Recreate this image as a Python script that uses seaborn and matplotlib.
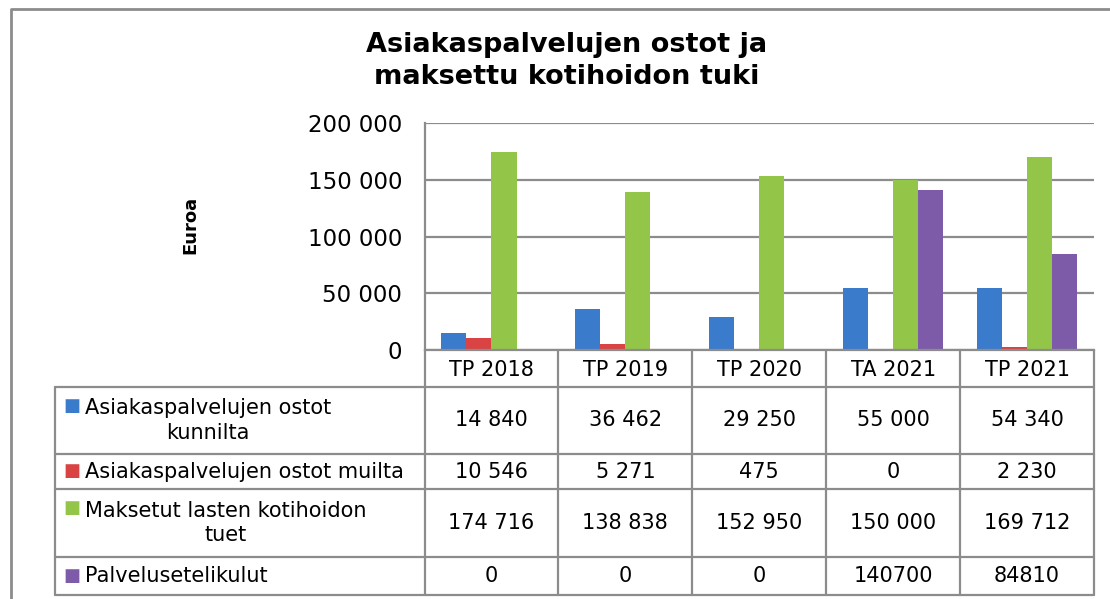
import matplotlib
matplotlib.use("Agg")
import matplotlib.pyplot as plt
import matplotlib.transforms as mtransforms
from matplotlib.lines import Line2D
from matplotlib.ticker import FuncFormatter
import pandas as pd
import seaborn as sns

W, H = 1110, 599

# Data
periods = ["TP 2018", "TP 2019", "TP 2020", "TA 2021", "TP 2021"]
series = ["Asiakaspalvelujen ostot kunnilta", "Asiakaspalvelujen ostot muilta",
          "Maksetut lasten kotihoidon tuet", "Palvelusetelikulut"]
series_labels = ["Asiakaspalvelujen ostot\nkunnilta", "Asiakaspalvelujen ostot muilta",
                 "Maksetut lasten kotihoidon\ntuet", "Palvelusetelikulut"]
kunnilta = [14840, 36462, 29250, 55000, 54340]
muilta = [10546, 5271, 475, 0, 2230]
kotihoidon_tuet = [174716, 138838, 152950, 150000, 169712]
palveluseteli = [0, 0, 0, 140700, 84810]
# last row has no thousands separators in the sheet
grouped = [True, True, True, False]
yticks = [0, 50000, 100000, 150000, 200000]

colors = ["#3A7BCB", "#D94343", "#93C548", "#7D5BA9"]
grid_col = "#8c8c8c"

values = [kunnilta, muilta, kotihoidon_tuet, palveluseteli]
rows = []
for s, vals in zip(series, values):
    for p, v in zip(periods, vals):
        rows.append({"period": p, "series": s, "value": v})
df = pd.DataFrame(rows)


def fmt(v, group=True):
    v = int(v)
    return f"{v:,}".replace(",", " ") if group else str(v)


sns.set_style("white")
plt.rcParams["font.family"] = ["DejaVu Sans"]
plt.rcParams["text.color"] = "black"
plt.rcParams["axes.labelcolor"] = "black"
plt.rcParams["ytick.color"] = "black"

fig = plt.figure(figsize=(W / 100, H / 100), dpi=100)
ax = fig.add_axes([424.5 / W, 1 - 350 / H, (1094 - 424.5) / W, (350 - 123) / H])

sns.barplot(data=df, x="period", y="value", hue="series", order=periods,
            hue_order=series, palette=colors, saturation=1, width=0.75,
            errorbar=None, legend=False, ax=ax, linewidth=0)

ax.set_xlim(-0.5, len(periods) - 0.5)
ax.set_ylim(0, 200000)
ax.set_yticks(yticks)
ax.yaxis.set_major_formatter(FuncFormatter(lambda v, _: fmt(v)))
ax.tick_params(axis="y", length=0, pad=16, labelsize=16.5)
ax.set_xticks([])
ax.set_xlabel("")
ax.set_ylabel("Euroa", fontsize=13, fontweight="bold", labelpad=78)
ax.yaxis.label.set_y(0.55)
ax.grid(axis="y", color=grid_col, lw=1.6)
ax.set_axisbelow(True)
for side in ["top", "right"]:
    ax.spines[side].set_visible(False)
for side in ["left", "bottom"]:
    ax.spines[side].set_color(grid_col)
    ax.spines[side].set_linewidth(1.6)

fig.text(567 / W, 1 - 61 / H, "Asiakaspalvelujen ostot ja\nmaksettu kotihoidon tuki",
         ha="center", va="center", fontsize=19.5, fontweight="bold", linespacing=1.25)

# data table below the axes (pixel positions from the top of the image)
pix = mtransforms.Affine2D().scale(1 / W, -1 / H).translate(0, 1) + fig.transFigure
colpix = mtransforms.blended_transform_factory(ax.transData, pix)

head_top = 350
row_edges = [387, 454, 489, 557, 595]
tbl_left = 55
tbl_right = 1094
line_kw = dict(color=grid_col, lw=1.6)

for y in row_edges:
    fig.add_artist(Line2D([tbl_left, tbl_right], [y, y], transform=pix, **line_kw))
fig.add_artist(Line2D([tbl_left, tbl_left], [row_edges[0], row_edges[-1]], transform=pix, **line_kw))
for i in range(len(periods) + 1):
    fig.add_artist(Line2D([i - 0.5, i - 0.5], [head_top, row_edges[-1]], transform=colpix, **line_kw))

for i, p in enumerate(periods):
    fig.text(i, (head_top + row_edges[0]) / 2 + 1, p, transform=colpix, ha="center",
             va="center", fontsize=15)

for r, (lab, vals) in enumerate(zip(series_labels, values)):
    yc = (row_edges[r] + row_edges[r + 1]) / 2
    ytop = row_edges[r] + 19 if "\n" in lab else yc
    fig.text(72, ytop, "\u25A0", transform=pix, ha="center", va="center",
             fontsize=13, color=colors[r])
    fig.text(85, yc, lab, transform=pix, ha="left", va="center",
             multialignment="center", fontsize=15, linespacing=1.3)
    for i, v in enumerate(vals):
        fig.text(i, yc, fmt(v, grouped[r]), transform=colpix, ha="center",
                 va="center", fontsize=15)

# chart frame
fig.add_artist(Line2D([11, 11, W + 5], [H + 5, 9, 9], transform=pix, color=grid_col, lw=2))

fig.savefig("out.png", dpi=100)
